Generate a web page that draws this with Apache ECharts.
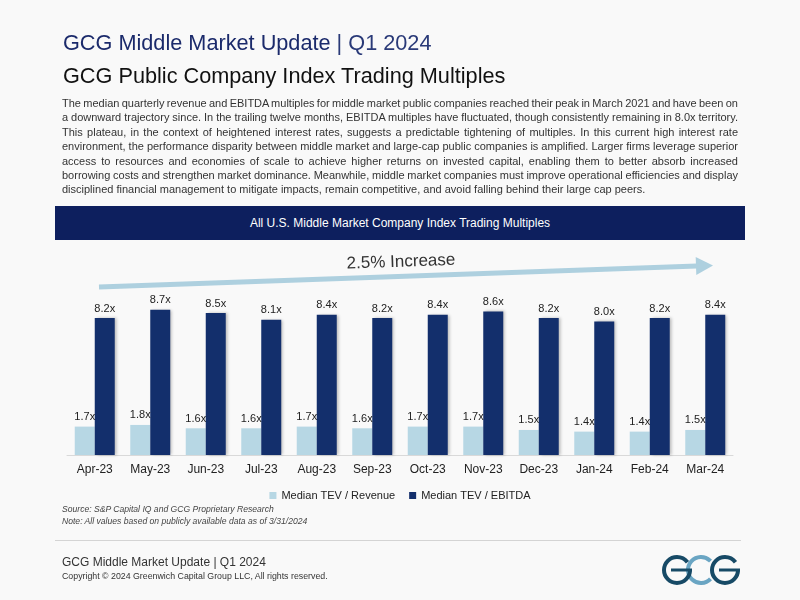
<!DOCTYPE html>
<html>
<head>
<meta charset="utf-8">
<script src="https://cdn.jsdelivr.net/npm/echarts@6/dist/echarts.min.js"></script>
<style>
  html, body { margin: 0; padding: 0; background: #f9f9f9; }
  body { width: 800px; height: 600px; position: relative; overflow: hidden;
         font-family: "Liberation Sans", Arial, sans-serif; }
  #chart { position: absolute; left: 0; top: 0; width: 800px; height: 600px; }
  .abs { position: absolute; z-index: 2; white-space: nowrap; }
  #head1 { left: 63px; top: 30px; font-size: 21.7px; color: #1b2a6b; }
  #head1 .thin { color: #2a3a78; }
  #head2 { left: 63px; top: 63px; font-size: 21.7px; color: #111; }
  #para { left: 62px; top: 96px; width: 676px; font-size: 11px; line-height: 14.4px; color: #333; }
  #para div { white-space: nowrap; }
  #para span { display: inline-block; }
  #banner { left: 55px; top: 206px; width: 690px; height: 34px; background: #0d1f5e;
            color: #fff; font-size: 12px; line-height: 34px; text-align: center; }
  #src { left: 62px; top: 503px; font-size: 8.6px; line-height: 12px; font-style: italic; color: #444; }
  #rule { left: 55px; top: 540px; width: 686px; height: 1px; background: #d4d4d4; }
  #foot1 { left: 62px; top: 555px; font-size: 12px; color: #333; }
  #foot2 { left: 62px; top: 571px; font-size: 8.8px; color: #333; }
</style>
</head>
<body>
<div id="chart"></div>
<div class="abs" id="head1">GCG Middle Market Update <span class="thin">| Q1 2024</span></div>
<div class="abs" id="head2">GCG Public Company Index Trading Multiples</div>
<div class="abs" id="para"></div>
<div class="abs" id="banner">All U.S. Middle Market Company Index Trading Multiples</div>
<div class="abs" id="src">Source: S&amp;P Capital IQ and GCG Proprietary Research<br>Note: All values based on publicly available data as of 3/31/2024</div>
<div class="abs" id="rule"></div>
<div class="abs" id="foot1">GCG Middle Market Update | Q1 2024</div>
<div class="abs" id="foot2">Copyright © 2024 Greenwich Capital Group LLC, All rights reserved.</div>
<script>
var months = ['Apr-23', 'May-23', 'Jun-23', 'Jul-23', 'Aug-23', 'Sep-23', 'Oct-23', 'Nov-23', 'Dec-23', 'Jan-24', 'Feb-24', 'Mar-24'];
var tevRevenue = [1.7, 1.8, 1.6, 1.6, 1.7, 1.6, 1.7, 1.7, 1.5, 1.4, 1.4, 1.5];
var tevEbitda = [8.2, 8.7, 8.5, 8.1, 8.4, 8.2, 8.4, 8.6, 8.2, 8.0, 8.2, 8.4];
var seriesNames = ['Median TEV / Revenue', 'Median TEV / EBITDA'];

var paraLines = [
  'The median quarterly revenue and EBITDA multiples for middle market public companies reached their peak in March 2021 and have been on',
  'a downward trajectory since. In the trailing twelve months, EBITDA multiples have fluctuated, though consistently remaining in 8.0x territory.',
  'This plateau, in the context of heightened interest rates, suggests a predictable tightening of multiples. In this current high interest rate',
  'environment, the performance disparity between middle market and large-cap public companies is amplified. Larger firms leverage superior',
  'access to resources and economies of scale to achieve higher returns on invested capital, enabling them to better absorb increased',
  'borrowing costs and strengthen market dominance. Meanwhile, middle market companies must improve operational efficiencies and display',
  'disciplined financial management to mitigate impacts, remain competitive, and avoid falling behind their large cap peers.'
];

// justified paragraph, one line per div, spread with word-spacing
var para = document.getElementById('para');
paraLines.forEach(function (t, i) {
  var d = document.createElement('div');
  var s = document.createElement('span');
  s.textContent = t;
  d.appendChild(s);
  para.appendChild(d);
  if (i < paraLines.length - 1) {
    var w = s.getBoundingClientRect().width;
    var n = t.split(' ').length - 1;
    s.style.wordSpacing = ((676 - w) / n) + 'px';
  }
});

var fmt = function (p) { return p.value.toFixed(1) + 'x'; };

// logo rings
var logoDark = '#174a66', logoLight = '#6aa5c3';
function gRing(cx) {
  return [
    { type: 'arc', shape: { cx: cx, cy: 570, r: 13, startAngle: 0, endAngle: 5.65, clockwise: true },
      style: { stroke: logoDark, lineWidth: 4, fill: null } },
    { type: 'line', shape: { x1: cx - 6, y1: 570, x2: cx + 15, y2: 570 },
      style: { stroke: logoDark, lineWidth: 3 } }
  ];
}

var chart = echarts.init(document.getElementById('chart'));
var option = {
  backgroundColor: 'transparent',
  animation: false,
  textStyle: { fontFamily: 'Liberation Sans, Arial, sans-serif' },
  color: ['#b7d7e4', '#132f6c'],
  grid: { left: 67, right: 67, top: 288, bottom: 145 },
  legend: {
    top: 485,
    left: 'center',
    icon: 'rect',
    itemWidth: 7,
    itemHeight: 7,
    itemGap: 14,
    textStyle: { fontSize: 11, color: '#222' },
    data: seriesNames
  },
  xAxis: {
    type: 'category',
    data: months,
    axisLine: { lineStyle: { color: '#d9d9d9' } },
    axisTick: { show: false },
    axisLabel: { fontSize: 12, color: '#222', margin: 9 }
  },
  yAxis: {
    type: 'value',
    min: 0,
    max: 10,
    show: false,
    splitLine: { show: false }
  },
  series: [
    {
      name: seriesNames[0],
      type: 'bar',
      data: tevRevenue,
      barWidth: 20,
      barGap: '0%',
      label: { show: true, position: 'top', distance: 4, fontSize: 11, color: '#222', formatter: fmt }
    },
    {
      name: seriesNames[1],
      type: 'bar',
      data: tevEbitda,
      barWidth: 20,
      itemStyle: { shadowColor: 'rgba(0,0,0,0.25)', shadowBlur: 3, shadowOffsetX: 2 },
      label: { show: true, position: 'top', distance: 4, fontSize: 11, color: '#222', formatter: fmt }
    }
  ],
  graphic: [
    { type: 'line', shape: { x1: 99, y1: 287, x2: 697, y2: 266 },
      style: { stroke: '#aed0df', lineWidth: 5 } },
    { type: 'polygon', shape: { points: [[713, 265.5], [695.7, 257], [696.3, 275]] },
      style: { fill: '#aed0df' } },
    { type: 'text', x: 401, y: 262, rotation: 0.035,
      style: { text: '2.5% Increase', fontSize: 17, fill: '#333', fontFamily: 'Liberation Sans, Arial, sans-serif',
               align: 'center', verticalAlign: 'middle', textAlign: 'center', textVerticalAlign: 'middle' } },
    { type: 'arc', shape: { cx: 701, cy: 570, r: 13, startAngle: 0.75, endAngle: 5.53, clockwise: true },
      style: { stroke: logoLight, lineWidth: 4, fill: null } }
  ].concat(gRing(677), gRing(725))
};
chart.setOption(option);
</script>
</body>
</html>
